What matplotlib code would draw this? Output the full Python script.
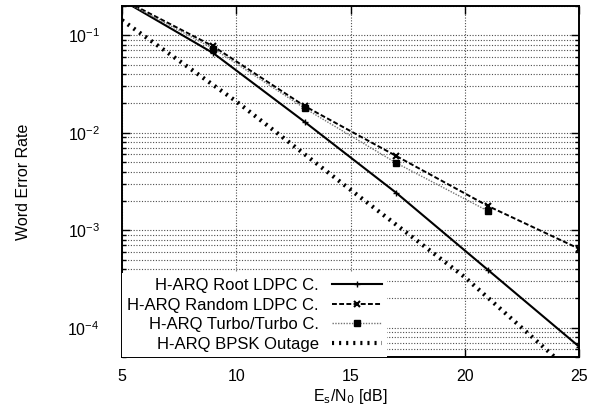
import numpy as np
import matplotlib
matplotlib.use('Agg')
import matplotlib.pyplot as plt
from matplotlib.ticker import LogLocator, NullFormatter

plt.rcParams['font.family'] = ['Liberation Sans', 'DejaVu Sans']

# Es/N0 in dB
snr = [5, 9, 13, 17, 21, 25]
wer_root = [0.23, 0.0655, 0.0129, 0.00242, 0.000394, 0.000064]
wer_random = [0.235, 0.077, 0.01875, 0.00578, 0.00178, 0.000646]

snr_turbo = [5, 9, 13, 17, 21]
wer_turbo = [0.23, 0.073, 0.0178, 0.0049, 0.00158]

snr_out = [5, 10, 15, 20, 25]
wer_out = [0.143, 0.021, 0.0026, 0.00033, 0.00003]

labels = ['H-ARQ Root LDPC C.', 'H-ARQ Random LDPC C.',
          'H-ARQ Turbo/Turbo C.', 'H-ARQ BPSK Outage']

fig = plt.figure(figsize=(6.02, 4.11), dpi=100)
ax = fig.add_axes([0.2027, 0.1314, 0.7591, 0.854])

ax.plot(snr, wer_root, '-', color='black', lw=1.5, marker='+',
        ms=4, mew=1, label=labels[0])
ax.plot(snr, wer_random, color='black', lw=1.4, ls=(0, (2.5, 1.2)),
        marker='x', ms=4, mew=1.5, label=labels[1])
ax.plot(snr_turbo, wer_turbo, color='0.45', lw=1.0, ls=(0, (1, 1)),
        marker='s', ms=4, mfc='black', mec='black', label=labels[2])
ax.plot(snr_out, wer_out, color='black', lw=3.0, ls=(0, (0.5, 1.2)),
        dash_capstyle='butt', label=labels[3])

ax.set_yscale('log')
ax.set_xlim(5, 25)
ax.set_ylim(5e-5, 0.2)
ax.set_xticks([5, 10, 15, 20, 25])
ax.yaxis.set_major_locator(LogLocator(base=10, numticks=10))
ax.yaxis.set_minor_locator(LogLocator(base=10, subs=np.arange(2, 10), numticks=10))
ax.yaxis.set_minor_formatter(NullFormatter())

ax.grid(True, which='major', axis='both', color='0.3', ls=(0, (1, 1.5)), lw=0.8)
ax.grid(True, which='minor', axis='y', color='0.3', ls=(0, (1, 1.5)), lw=0.8)

ax.tick_params(which='both', direction='in', top=True, right=True,
               labelsize=11.5, width=1)
ax.tick_params(which='major', length=6)
ax.tick_params(which='minor', length=3)
ax.tick_params(axis='y', which='major', pad=16)
ax.tick_params(axis='x', which='major', pad=9)
for s in ax.spines.values():
    s.set_linewidth(1.4)

ax.set_xlabel(r'E$_\mathrm{s}$/N$_\mathrm{0}$ [dB]', fontsize=11.5, labelpad=2)
ax.set_ylabel('Word Error Rate', fontsize=11.5)
ax.yaxis.set_label_coords(-0.2, 0.5)

leg = ax.legend(loc='lower left', markerfirst=False, fontsize=12,
                frameon=True, fancybox=False, framealpha=1,
                edgecolor='none', facecolor='white', borderaxespad=0.0,
                handlelength=3.0, labelspacing=0.28, borderpad=0.3,
                handletextpad=0.8)
# right-align the legend rows (text to the left of each sample)
for col in leg._legend_box._children[-1]._children:
    col.align = 'right'

fig.savefig('out.png', dpi=100)
